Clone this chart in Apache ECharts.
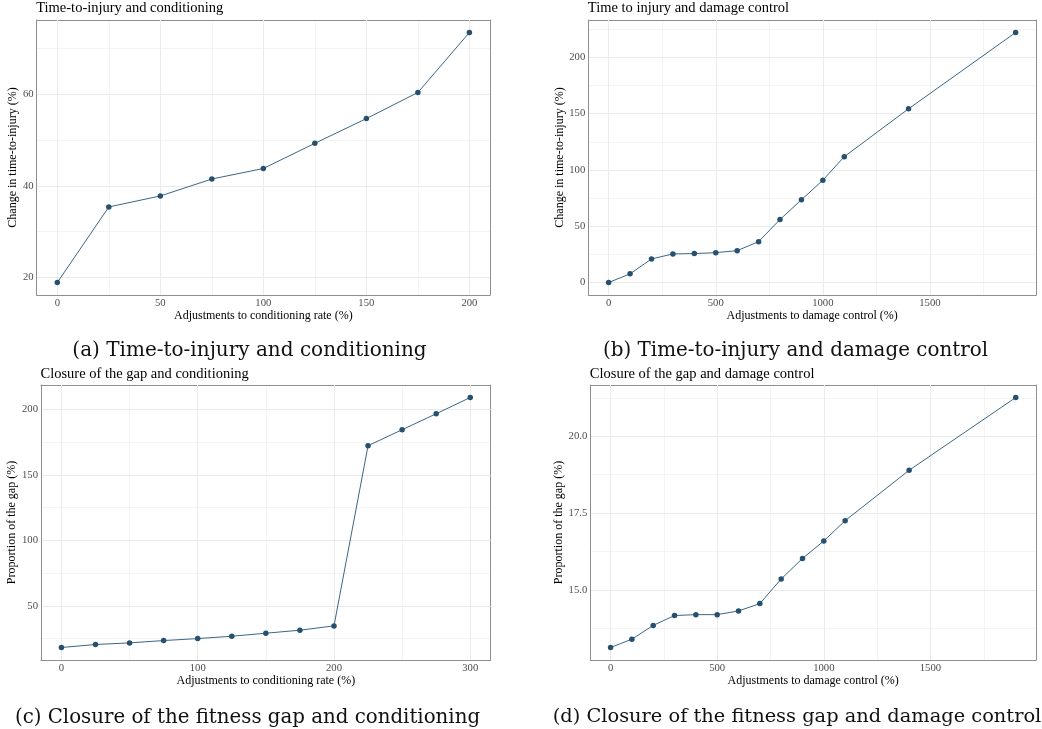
<!DOCTYPE html>
<html><head><meta charset="utf-8">
<script src="https://cdn.jsdelivr.net/npm/echarts@6/dist/echarts.min.js"></script>
<style>html,body{margin:0;padding:0;background:#fff}#c{width:1042px;height:729px}</style>
</head><body><div id="c"></div>
<script>
// ---- data ----
const conditioningRateA = [0, 25, 50, 75, 100, 125, 150, 175, 200];
const injuryVsConditioning = [18.9, 35.4, 37.8, 41.5, 43.8, 49.3, 54.7, 60.4, 73.5];

const damageControlB = [0, 100, 200, 300, 400, 500, 600, 700, 800, 900, 1000, 1100, 1400, 1900];
const injuryVsDamage = [0, 7.7, 20.9, 25.4, 25.7, 26.5, 28.3, 36.3, 56.0, 73.5, 90.9, 111.8, 154.3, 222.1];

const conditioningRateC = [0, 25, 50, 75, 100, 125, 150, 175, 200, 225, 250, 275, 300];
const gapVsConditioning = [18.3, 20.6, 21.8, 23.6, 25.1, 26.9, 29.2, 31.5, 34.8, 172.3, 184.5, 196.7, 209.1];

const damageControlD = [0, 100, 200, 300, 400, 500, 600, 700, 800, 900, 1000, 1100, 1400, 1900];
const gapVsDamage = [13.12, 13.39, 13.84, 14.16, 14.19, 14.19, 14.31, 14.55, 15.35, 16.02, 16.59, 17.25, 18.89, 21.26];

// tick labels
const ticksAx = [0, 50, 100, 150, 200];
const ticksAy = [20, 40, 60];
const ticksBx = [0, 500, 1000, 1500];
const ticksBy = [0, 50, 100, 150, 200];
const ticksCx = [0, 100, 200, 300];
const ticksCy = [50, 100, 150, 200];
const ticksDx = [0, 500, 1000, 1500];
const ticksDy = [15.0, 17.5, 20.0];

const panelTitles = ['Time-to-injury and conditioning', 'Time to injury and damage control',
  'Closure of the gap and conditioning', 'Closure of the gap and damage control'];
const xNames = ['Adjustments to conditioning rate (%)', 'Adjustments to damage control (%)',
  'Adjustments to conditioning rate (%)', 'Adjustments to damage control (%)'];
const yNames = ['Change in time-to-injury (%)', 'Change in time-to-injury (%)',
  'Proportion of the gap (%)', 'Proportion of the gap (%)'];
const captions = ['(a) Time-to-injury and conditioning', '(b) Time-to-injury and damage control',
  '(c) Closure of the fitness gap and conditioning', '(d) Closure of the fitness gap and damage control'];

// ---- layout ----
const panels = [
  {x: conditioningRateA, y: injuryVsConditioning, xt: ticksAx, yt: ticksAy, dec: 0,
   grid: {left: 36.7, top: 20, width: 453.3, height: 275}, yGap: 15.5, titleTop: 0.5, capX: 249.5, capTop: 340.5, capSize: 20},
  {x: damageControlB, y: injuryVsDamage, xt: ticksBx, yt: ticksBy, dec: 0,
   grid: {left: 588.3, top: 20, width: 447.7, height: 275}, yGap: 20.5, titleTop: 0.5, capX: 795.5, capTop: 340.5, capSize: 19.9},
  {x: conditioningRateC, y: gapVsConditioning, xt: ticksCx, yt: ticksCy, dec: 0,
   grid: {left: 41, top: 385, width: 449.7, height: 275}, yGap: 20, titleTop: 366.2, capX: 247.5, capTop: 707.5, capSize: 19.8},
  {x: damageControlD, y: gapVsDamage, xt: ticksDx, yt: ticksDy, dec: 1,
   grid: {left: 590.3, top: 385, width: 445.7, height: 275}, yGap: 22.5, titleTop: 366.2, capX: 797, capTop: 707.5, capSize: 19.4}
];

const SERIF = '"Liberation Serif", "Times New Roman", serif';
const BORDER = '#8F8F8F';
const MAJOR = '#EBEBEB';
const MINOR = '#F1F1F1';

function ext(arr) {
  const lo = Math.min(...arr), hi = Math.max(...arr), pad = (hi - lo) * 0.05;
  return [lo - pad, hi + pad];
}
function fmt(ticks, dec) {
  return function (v) {
    return ticks.some(t => Math.abs(t - v) < 1e-6) ? v.toFixed(dec) : '';
  };
}

const grids = [], xAxes = [], yAxes = [], series = [], titles = [];
panels.forEach((p, i) => {
  grids.push(Object.assign({show: false}, p.grid));
  const [x0, x1] = ext(p.x), [y0, y1] = ext(p.y);
  const xi = p.xt[1] - p.xt[0], yi = p.yt[1] - p.yt[0];
  xAxes.push({
    type: 'value', gridIndex: i, position: 'bottom', min: x0, max: x1, z: 1,
    minInterval: xi, maxInterval: xi,
    axisLine: {show: true, onZero: false, lineStyle: {color: BORDER, width: 1}},
    axisTick: {show: false},
    axisLabel: {margin: 3, fontFamily: SERIF, fontSize: 10.7, color: '#4D4D4D', formatter: fmt(p.xt, 0)},
    splitLine: {show: true, showMinLine: false, showMaxLine: false, lineStyle: {color: MAJOR, width: 1}},
    name: xNames[i], nameLocation: 'middle', nameGap: 14,
    nameTextStyle: {fontFamily: SERIF, fontSize: 12, color: '#000', verticalAlign: 'top'}
  });
  xAxes.push({
    type: 'value', gridIndex: i, position: 'top', min: x0, max: x1, z: 0,
    minInterval: xi / 2, maxInterval: xi / 2,
    axisLine: {show: true, onZero: false, lineStyle: {color: BORDER, width: 1}},
    axisTick: {show: false}, axisLabel: {show: false},
    splitLine: {show: true, showMinLine: false, showMaxLine: false, lineStyle: {color: MINOR, width: 0.8}}
  });
  yAxes.push({
    type: 'value', gridIndex: i, position: 'left', min: y0, max: y1, z: 1,
    minInterval: yi, maxInterval: yi,
    axisLine: {show: true, onZero: false, lineStyle: {color: BORDER, width: 1}},
    axisTick: {show: false},
    axisLabel: {margin: 3, fontFamily: SERIF, fontSize: 10.7, color: '#4D4D4D', formatter: fmt(p.yt, p.dec)},
    splitLine: {show: true, showMinLine: false, showMaxLine: false, lineStyle: {color: MAJOR, width: 1}},
    name: yNames[i], nameLocation: 'middle', nameGap: p.yGap, nameRotate: 90,
    nameTextStyle: {fontFamily: SERIF, fontSize: 12, color: '#000'}
  });
  yAxes.push({
    type: 'value', gridIndex: i, position: 'right', min: y0, max: y1, z: 0,
    minInterval: yi / 2, maxInterval: yi / 2,
    axisLine: {show: true, onZero: false, lineStyle: {color: BORDER, width: 1}},
    axisTick: {show: false}, axisLabel: {show: false},
    splitLine: {show: true, showMinLine: false, showMaxLine: false, lineStyle: {color: MINOR, width: 0.8}}
  });
  series.push({
    type: 'line', xAxisIndex: 2 * i, yAxisIndex: 2 * i,
    data: p.x.map((v, k) => [v, p.y[k]]),
    symbol: 'circle', symbolSize: 5.5, showSymbol: true,
    itemStyle: {color: '#27506E'},
    lineStyle: {color: '#3B6786', width: 1},
    emphasis: {disabled: true}, animation: false, z: 3
  });
  titles.push({
    text: panelTitles[i], left: p.grid.left - 0.5, top: p.titleTop, padding: 0,
    textStyle: {fontFamily: SERIF, fontSize: 14.5, fontWeight: 'normal', color: '#000'}
  });
  titles.push({
    text: captions[i], left: p.capX, top: p.capTop, padding: 0, textAlign: 'center',
    textStyle: {fontFamily: '"DejaVu Serif", serif', fontSize: p.capSize, fontWeight: 'normal', color: '#111'}
  });
});

const chart = echarts.init(document.getElementById('c'), null, {renderer: 'canvas'});
chart.setOption({
  animation: false,
  backgroundColor: '#fff',
  title: titles,
  grid: grids,
  xAxis: xAxes,
  yAxis: yAxes,
  series: series
});
</script>
</body></html>
